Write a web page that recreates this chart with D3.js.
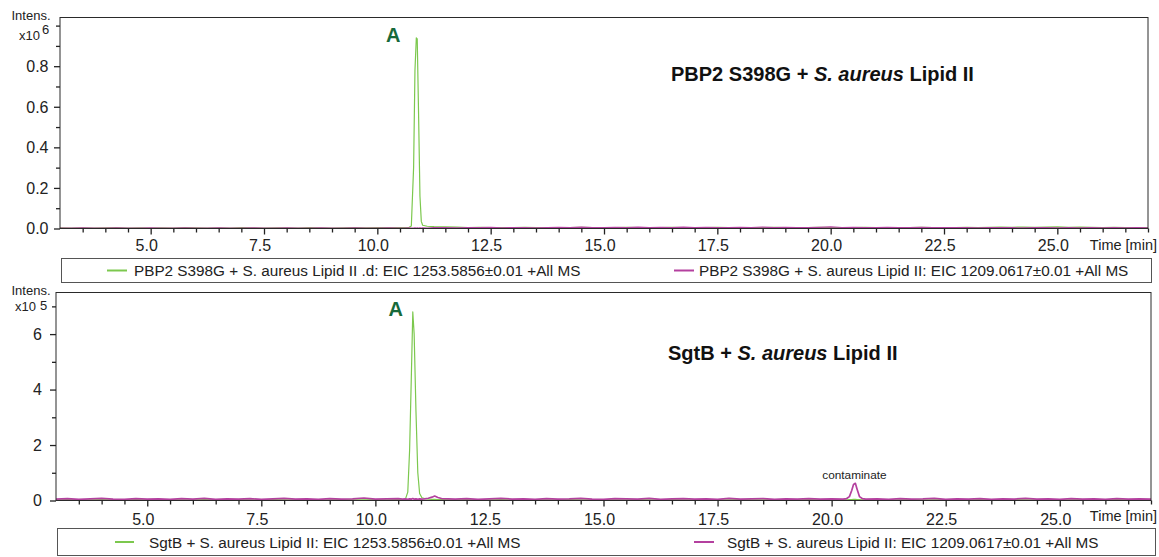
<!DOCTYPE html>
<html>
<head>
<meta charset="utf-8">
<script src="https://cdn.jsdelivr.net/npm/d3@7"></script>
<style>
  html, body { margin: 0; padding: 0; background: #fff; }
  svg { display: block; }
</style>
</head>
<body>
<svg id="chart" width="1159" height="557"></svg>
<script>
// ---------- data ----------
// Upper trace: PBP2 S398G + S. aureus Lipid II, intensity in units of 10^6
const pbpTime = [
  3.0, 3.25, 3.5, 3.75, 4.0, 4.25, 4.5, 4.75, 5.0, 5.25,
  5.5, 5.75, 6.0, 6.25, 6.5, 6.75, 7.0, 7.25, 7.5, 7.75,
  8.0, 8.25, 8.5, 8.75, 9.0, 9.25, 9.5, 9.75, 10.0, 10.25,
  10.5,
  10.6, 10.7, 10.75, 10.8, 10.83, 10.86, 10.88, 10.91, 10.94, 10.97, 11.0, 11.1, 11.25,
  11.5, 11.75, 12.0, 12.25, 12.5, 12.75, 13.0, 13.25, 13.5, 13.75,
  14.0, 14.25, 14.5, 14.75, 15.0, 15.25, 15.5, 15.75, 16.0, 16.25,
  16.5, 16.75, 17.0, 17.25, 17.5, 17.75, 18.0, 18.25, 18.5, 18.75,
  19.0, 19.25, 19.5, 19.75, 20.0, 20.25, 20.5, 20.75, 21.0, 21.25,
  21.5, 21.75, 22.0, 22.25, 22.5, 22.75, 23.0, 23.25, 23.5, 23.75,
  24.0, 24.25, 24.5, 24.75, 25.0, 25.25, 25.5, 25.75, 26.0, 26.25,
  26.5, 26.75, 27.0
];
const pbpEic1253 = [
  0.003, 0.002, 0.003, 0.002, 0.003, 0.004, 0.002, 0.003, 0.002, 0.003,
  0.002, 0.004, 0.003, 0.002, 0.003, 0.002, 0.004, 0.003, 0.002, 0.003,
  0.003, 0.002, 0.004, 0.003, 0.002, 0.003, 0.004, 0.003, 0.004, 0.005,
  0.004,
  0.005, 0.006, 0.012, 0.30, 0.78, 0.94, 0.935, 0.56, 0.16, 0.035, 0.016, 0.011, 0.009,
  0.008, 0.007, 0.005, 0.006, 0.004, 0.005, 0.004, 0.006, 0.005, 0.004,
  0.005, 0.004, 0.006, 0.005, 0.004, 0.005, 0.006, 0.004, 0.005, 0.004,
  0.006, 0.005, 0.004, 0.005, 0.006, 0.004, 0.005, 0.004, 0.005, 0.006,
  0.004, 0.005, 0.004, 0.006, 0.005, 0.004, 0.005, 0.006, 0.004, 0.005,
  0.004, 0.005, 0.006, 0.004, 0.005, 0.004, 0.006, 0.005, 0.006, 0.007,
  0.006, 0.007, 0.006, 0.007, 0.008, 0.006, 0.007, 0.006, 0.005, 0.006,
  0.004, 0.005, 0.004
];
const pbpEic1209 = [
  0.002, 0.002, 0.003, 0.002, 0.002, 0.003, 0.002, 0.002, 0.003, 0.002,
  0.002, 0.003, 0.002, 0.002, 0.003, 0.002, 0.002, 0.003, 0.002, 0.002,
  0.003, 0.002, 0.002, 0.003, 0.002, 0.002, 0.003, 0.002, 0.002, 0.003,
  0.002,
  0.002, 0.003, 0.002, 0.002, 0.003, 0.002, 0.003, 0.002, 0.003, 0.002, 0.003, 0.002, 0.004,
  0.004, 0.003, 0.005, 0.004, 0.006, 0.003, 0.005, 0.004, 0.003, 0.005,
  0.006, 0.004, 0.007, 0.005, 0.004, 0.006, 0.005, 0.007, 0.004, 0.006,
  0.005, 0.007, 0.004, 0.006, 0.005, 0.004, 0.006, 0.005, 0.007, 0.004,
  0.006, 0.005, 0.004, 0.006, 0.008, 0.005, 0.006, 0.004, 0.005, 0.006,
  0.004, 0.005, 0.006, 0.004, 0.005, 0.004, 0.005, 0.003, 0.004, 0.005,
  0.004, 0.003, 0.004, 0.005, 0.003, 0.004, 0.003, 0.004, 0.003, 0.004,
  0.003, 0.004, 0.003
];

// Lower trace: SgtB + S. aureus Lipid II, intensity in units of 10^5
const sgtTime = [
  3.0, 3.25, 3.5, 3.75, 4.0, 4.25, 4.5, 4.75, 5.0, 5.25,
  5.5, 5.75, 6.0, 6.25, 6.5, 6.75, 7.0, 7.25, 7.5, 7.75,
  8.0, 8.25, 8.5, 8.75, 9.0, 9.25, 9.5, 9.75, 10.0, 10.25,
  10.5,
  10.6, 10.66, 10.71, 10.75, 10.79, 10.82, 10.85, 10.89, 10.93, 10.97, 11.02, 11.08,
  11.16, 11.24, 11.3, 11.37, 11.45,
  11.75, 12.0, 12.25, 12.5, 12.75, 13.0, 13.25, 13.5, 13.75, 14.0,
  14.25, 14.5, 14.75, 15.0, 15.25, 15.5, 15.75, 16.0, 16.25, 16.5,
  16.75, 17.0, 17.25, 17.5, 17.75, 18.0, 18.25, 18.5, 18.75, 19.0,
  19.25, 19.5, 19.75, 20.0, 20.25,
  20.33, 20.39, 20.44, 20.48, 20.52, 20.56, 20.61, 20.67,
  20.75, 21.0, 21.25, 21.5, 21.75, 22.0, 22.25, 22.5, 22.75, 23.0,
  23.25, 23.5, 23.75, 24.0, 24.25, 24.5, 24.75, 25.0, 25.25, 25.5,
  25.75, 26.0, 26.25, 26.5, 26.75, 27.0
];
const sgtEic1253 = [
  0.02, 0.03, 0.02, 0.02, 0.03, 0.02, 0.02, 0.03, 0.02, 0.02,
  0.03, 0.02, 0.02, 0.03, 0.02, 0.02, 0.03, 0.02, 0.02, 0.03,
  0.02, 0.02, 0.03, 0.02, 0.02, 0.03, 0.02, 0.02, 0.03, 0.02,
  0.03,
  0.03, 0.06, 0.3, 1.8, 4.6, 6.8, 6.0, 3.2, 1.0, 0.25, 0.1, 0.07,
  0.05, 0.04, 0.04, 0.03, 0.03,
  0.02, 0.03, 0.02, 0.02, 0.03, 0.02, 0.02, 0.03, 0.02, 0.02,
  0.03, 0.02, 0.02, 0.03, 0.02, 0.02, 0.03, 0.02, 0.02, 0.03,
  0.02, 0.02, 0.03, 0.02, 0.02, 0.03, 0.02, 0.02, 0.03, 0.02,
  0.02, 0.03, 0.02, 0.02, 0.03,
  0.02, 0.03, 0.03, 0.04, 0.04, 0.03, 0.03, 0.02,
  0.02, 0.03, 0.02, 0.02, 0.03, 0.02, 0.02, 0.03, 0.02, 0.02,
  0.03, 0.02, 0.02, 0.03, 0.02, 0.02, 0.03, 0.02, 0.02, 0.03,
  0.02, 0.02, 0.03, 0.02, 0.02, 0.03
];
const sgtEic1209 = [
  0.05, 0.07, 0.04, 0.06, 0.08, 0.05, 0.04, 0.07, 0.05, 0.06,
  0.04, 0.07, 0.05, 0.08, 0.04, 0.06, 0.05, 0.07, 0.04, 0.06,
  0.08, 0.05, 0.06, 0.04, 0.07, 0.05, 0.06, 0.09, 0.05, 0.06,
  0.07,
  0.05, 0.06, 0.04, 0.06, 0.05, 0.07, 0.05, 0.06, 0.04, 0.06, 0.05, 0.06,
  0.08, 0.12, 0.16, 0.11, 0.07,
  0.05, 0.07, 0.04, 0.06, 0.08, 0.05, 0.06, 0.04, 0.07, 0.05,
  0.06, 0.08, 0.05, 0.04, 0.07, 0.06, 0.05, 0.08, 0.04, 0.06,
  0.07, 0.05, 0.06, 0.04, 0.08, 0.05, 0.06, 0.07, 0.04, 0.06,
  0.05, 0.07, 0.05, 0.06, 0.05,
  0.07, 0.14, 0.36, 0.58, 0.62, 0.4, 0.14, 0.07,
  0.05, 0.06, 0.04, 0.07, 0.05, 0.06, 0.08, 0.04, 0.06, 0.05,
  0.07, 0.04, 0.06, 0.05, 0.08, 0.05, 0.06, 0.04, 0.07, 0.05,
  0.06, 0.04, 0.07, 0.05, 0.06, 0.05
];

// axis ticks and labels
const timeMajorTicks = [5.0, 7.5, 10.0, 12.5, 15.0, 17.5, 20.0, 22.5, 25.0];
const timeMinorTicks = [3.5, 4.0, 4.5, 5.5, 6.0, 6.5, 7.0, 8.0, 8.5, 9.0, 9.5, 10.5, 11.0, 11.5, 12.0,
  13.0, 13.5, 14.0, 14.5, 15.5, 16.0, 16.5, 17.0, 18.0, 18.5, 19.0, 19.5, 20.5, 21.0, 21.5, 22.0,
  23.0, 23.5, 24.0, 24.5, 25.5, 26.0, 26.5, 27.0];
const pbpMajorTicks = [0.0, 0.2, 0.4, 0.6, 0.8];
const pbpMinorTicks = [0.1, 0.3, 0.5, 0.7, 0.9, 1.0];
const sgtMajorTicks = [0, 2, 4, 6];
const sgtMinorTicks = [1, 3, 5, 7];

const pbpTitle = ["PBP2 S398G + ", "S. aureus", " Lipid II"];
const sgtTitle = ["SgtB + ", "S. aureus", " Lipid II"];
const pbpLegend = [
  "PBP2 S398G + S. aureus Lipid II .d: EIC 1253.5856±0.01 +All MS",
  "PBP2 S398G + S. aureus Lipid II: EIC 1209.0617±0.01 +All MS"
];
const sgtLegend = [
  "SgtB + S. aureus Lipid II: EIC 1253.5856±0.01 +All MS",
  "SgtB + S. aureus Lipid II: EIC 1209.0617±0.01 +All MS"
];

// ---------- drawing ----------
const FONT = "'Liberation Sans', Arial, Helvetica, sans-serif";
const GREEN = "#7cc84e";
const MAGENTA = "#b4409f";
const PEAK_LABEL = "#17693a";
const INK = "#222";

const svg = d3.select("#chart");
svg.append("rect").attr("width", 1159).attr("height", 557).attr("fill", "#fff");

const panels = [
  {
    id: "pbp", left: 60, right: 1148, top: 17.5, zero: 228.5, yMax: 1.04,
    time: pbpTime, series: [pbpEic1253, pbpEic1209], widths: [1.2, 1.2],
    major: pbpMajorTicks, minor: pbpMinorTicks, fmt: d3.format(".1f"),
    expo: "6", intensY: 20, x10Y: 39.5, x10X: 19, expDx: 2, expDy: -6,
    title: pbpTitle, titleX: 671, titleY: 81,
    peakTime: 10.86, peakValue: 0.94, peakLabelDx: -23, peakLabelY: 42,
    legend: pbpLegend, legendBox: [61, 258, 1151, 282],
    legendItems: [{x1: 107, x2: 127, tx: 134}, {x1: 674, x2: 694, tx: 699}],
    legendTextY: 276, tickLabelY: 251, timeLabelY: 250, yLabelRight: 48.5
  },
  {
    id: "sgt", left: 56, right: 1151, top: 292.5, zero: 500.5, yMax: 7.5,
    time: sgtTime, series: [sgtEic1253, sgtEic1209], widths: [1.2, 1.7],
    major: sgtMajorTicks, minor: sgtMinorTicks, fmt: d3.format("d"),
    expo: "5", intensY: 294.5, x10Y: 311, x10X: 15, expDx: 4, expDy: -1,
    title: sgtTitle, titleX: 668, titleY: 360,
    peakTime: 10.82, peakValue: 6.8, peakLabelDx: -17, peakLabelY: 316,
    legend: sgtLegend, legendBox: [57, 528, 1155, 555],
    legendItems: [{x1: 115, x2: 134, tx: 149}, {x1: 694, x2: 714, tx: 727}],
    legendTextY: 548, tickLabelY: 525, timeLabelY: 521, yLabelRight: 42
  }
];

panels.forEach(p => {
  const x = d3.scaleLinear().domain([3.0, 27.0]).range([p.left, p.right]);
  const y = d3.scaleLinear().domain([0, p.yMax]).range([p.zero, p.top]);
  const g = svg.append("g").attr("class", "panel-" + p.id);

  // clip region for the traces
  const clipId = "clip-" + p.id;
  svg.append("clipPath").attr("id", clipId)
    .append("rect")
    .attr("x", p.left).attr("y", p.top)
    .attr("width", p.right - p.left).attr("height", p.zero - p.top);

  // traces
  const line = d3.line()
    .x(d => x(d[0]))
    .y(d => y(d[1]));
  const colors = [GREEN, MAGENTA];
  p.series.forEach((vals, i) => {
    const pts = d3.zip(p.time, vals);
    g.append("path")
      .datum(pts)
      .attr("clip-path", `url(#${clipId})`)
      .attr("fill", "none")
      .attr("stroke", colors[i])
      .attr("stroke-width", p.widths[i])
      .attr("stroke-linejoin", "round")
      .attr("d", line);
  });

  // frame
  g.append("rect")
    .attr("x", p.left).attr("y", p.top)
    .attr("width", p.right - p.left).attr("height", p.zero - p.top)
    .attr("fill", "none").attr("stroke", "#2a2a2a").attr("stroke-width", 1);

  // bottom time axis
  const xAxisMinor = d3.axisBottom(x).tickValues(timeMinorTicks).tickSize(4).tickFormat("");
  const xAxisMajor = d3.axisBottom(x).tickValues(timeMajorTicks).tickSize(6).tickFormat("");
  [xAxisMinor, xAxisMajor].forEach(ax => {
    const a = g.append("g").attr("transform", `translate(0,${p.zero})`).call(ax);
    a.select(".domain").remove();
    a.selectAll("line").attr("stroke", "#222").attr("stroke-width", 1.3);
  });
  g.selectAll(null)
    .data(timeMajorTicks)
    .join("text")
    .attr("x", d => x(d) - 4)
    .attr("y", p.tickLabelY)
    .attr("text-anchor", "middle")
    .attr("font-family", FONT).attr("font-size", 16).attr("fill", INK)
    .text(d => d3.format(".1f")(d));
  g.append("text")
    .attr("x", 1157).attr("y", p.timeLabelY)
    .attr("text-anchor", "end")
    .attr("font-family", FONT).attr("font-size", 14.5).attr("fill", INK)
    .text("Time [min]");

  // left intensity axis
  const yAxisMinor = d3.axisLeft(y).tickValues(p.minor).tickSize(4).tickFormat("");
  const yAxisMajor = d3.axisLeft(y).tickValues(p.major).tickSize(6).tickFormat("");
  [yAxisMinor, yAxisMajor].forEach(ax => {
    const a = g.append("g").attr("transform", `translate(${p.left},0)`).call(ax);
    a.select(".domain").remove();
    a.selectAll("line").attr("stroke", "#222").attr("stroke-width", 1.3);
  });
  g.selectAll(null)
    .data(p.major)
    .join("text")
    .attr("x", p.yLabelRight)
    .attr("y", d => y(d))
    .attr("dy", "0.36em")
    .attr("text-anchor", "end")
    .attr("font-family", FONT).attr("font-size", 16).attr("fill", INK)
    .text(d => p.fmt(d));

  // intensity unit label
  g.append("text")
    .attr("x", 11.5).attr("y", p.intensY)
    .attr("font-family", FONT).attr("font-size", 13).attr("fill", INK)
    .text("Intens.");
  const unit = g.append("text")
    .attr("x", p.x10X).attr("y", p.x10Y)
    .attr("font-family", FONT).attr("font-size", 13).attr("fill", INK);
  unit.append("tspan").text("x10");
  unit.append("tspan").attr("dx", p.expDx).attr("dy", p.expDy).text(p.expo);

  // sample title
  const t = g.append("text")
    .attr("x", p.titleX).attr("y", p.titleY)
    .attr("font-family", FONT).attr("font-size", 20)
    .attr("font-weight", "bold").attr("fill", "#111");
  t.append("tspan").text(p.title[0]);
  t.append("tspan").attr("font-style", "italic").text(p.title[1]);
  t.append("tspan").text(p.title[2]);

  // peak annotation
  g.append("text")
    .attr("x", x(p.peakTime) + p.peakLabelDx)
    .attr("y", p.peakLabelY)
    .attr("text-anchor", "middle")
    .attr("font-family", FONT).attr("font-size", 20)
    .attr("font-weight", "bold").attr("fill", PEAK_LABEL)
    .text("A");

  // legend
  const [lx1, ly1, lx2, ly2] = p.legendBox;
  g.append("rect")
    .attr("x", lx1 + 0.5).attr("y", ly1 + 0.5)
    .attr("width", lx2 - lx1).attr("height", ly2 - ly1)
    .attr("fill", "#fff").attr("stroke", "#555").attr("stroke-width", 1);
  p.legendItems.forEach((it, i) => {
    const cy = (ly1 + ly2) / 2 + 0.5;
    g.append("line")
      .attr("x1", it.x1).attr("x2", it.x2)
      .attr("y1", cy).attr("y2", cy)
      .attr("stroke", colors[i]).attr("stroke-width", 2);
    g.append("text")
      .attr("x", it.tx).attr("y", p.legendTextY)
      .attr("font-family", FONT).attr("font-size", 15.3).attr("fill", INK)
      .text(p.legend[i]);
  });
});

// contaminant annotation on the lower trace
{
  const p = panels[1];
  const x = d3.scaleLinear().domain([3.0, 27.0]).range([p.left, p.right]);
  svg.append("text")
    .attr("x", x(20.5))
    .attr("y", 479)
    .attr("text-anchor", "middle")
    .attr("font-family", FONT).attr("font-size", 11.8).attr("fill", INK)
    .text("contaminate");
}
</script>
</body>
</html>
